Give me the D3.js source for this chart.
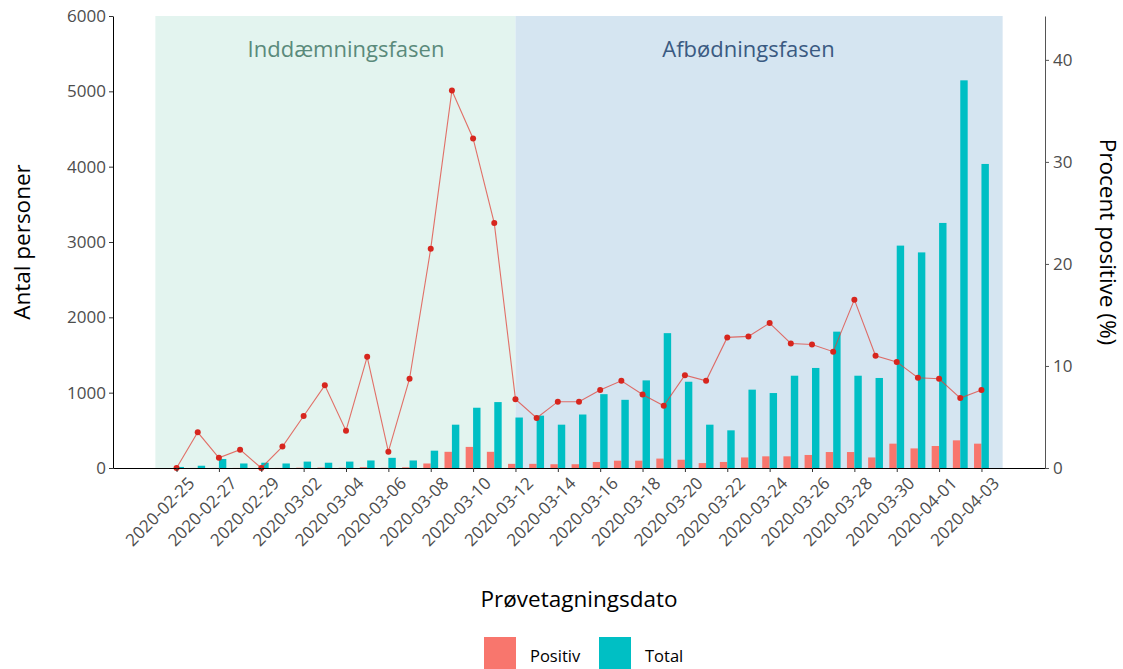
<!DOCTYPE html>
<html>
<head>
<meta charset="utf-8">
<script src="https://cdn.jsdelivr.net/npm/d3@7"></script>
<style>
  body { margin: 0; background: #fff; }
  svg text { font-family: "Open Sans", "Noto Sans", sans-serif; }
  .tick text { fill: #4d4d4d; font-size: 17px; }
</style>
</head>
<body>
<div class="graph"></div>
<script>
// Data
const dates = ['2020-02-25','2020-02-26','2020-02-27','2020-02-28','2020-02-29',
  '2020-03-01','2020-03-02','2020-03-03','2020-03-04','2020-03-05','2020-03-06','2020-03-07',
  '2020-03-08','2020-03-09','2020-03-10','2020-03-11','2020-03-12','2020-03-13','2020-03-14',
  '2020-03-15','2020-03-16','2020-03-17','2020-03-18','2020-03-19','2020-03-20','2020-03-21',
  '2020-03-22','2020-03-23','2020-03-24','2020-03-25','2020-03-26','2020-03-27','2020-03-28',
  '2020-03-29','2020-03-30','2020-03-31','2020-04-01','2020-04-02','2020-04-03'];
const positiv = [0, 1, 1, 1, 0, 1, 4, 6, 3, 11, 2, 9,
  60, 215, 280, 215, 55, 55, 50, 50, 80, 97, 97, 125, 110, 65,
  80, 140, 155, 155, 173, 212, 212, 140, 323, 260, 292, 367, 323];
const total = [14, 30, 120, 60, 70, 60, 85, 70, 85, 100, 135, 100,
  230, 575, 800, 875, 670, 695, 575, 710, 980, 905, 1163, 1790, 1145, 575,
  500, 1040, 995, 1225, 1328, 1810, 1225, 1195, 2952, 2862, 3253, 5146, 4036];
const procent = [0, 3.5, 1.0, 1.8, 0, 2.1, 5.1, 8.1, 3.65, 10.9, 1.6, 8.75,
  21.5, 37.0, 32.3, 24.0, 6.75, 4.9, 6.5, 6.5, 7.65, 8.55, 7.2, 6.1, 9.1, 8.55,
  12.8, 12.9, 14.2, 12.2, 12.1, 11.4, 16.5, 11.0, 10.4, 8.85, 8.75, 6.85, 7.65];
const tickDates = ['2020-02-25','2020-02-27','2020-02-29','2020-03-02','2020-03-04',
  '2020-03-06','2020-03-08','2020-03-10','2020-03-12','2020-03-14','2020-03-16','2020-03-18',
  '2020-03-20','2020-03-22','2020-03-24','2020-03-26','2020-03-28','2020-03-30','2020-04-01','2020-04-03'];
const leftTicks = [0, 1000, 2000, 3000, 4000, 5000, 6000];
const rightTicks = [0, 10, 20, 30, 40];
const phases = [
  { name: 'Inddæmningsfasen', start: '2020-02-24', end: '2020-03-12', label: '2020-03-04', fill: '#e3f4ef', color: '#5a8a7b' },
  { name: 'Afbødningsfasen', start: '2020-03-12', end: '2020-04-04', label: '2020-03-23', fill: '#d5e5f1', color: '#3a5a82' }
];
const series = ['Positiv', 'Total'];
const colors = ['#f8766d', '#00bfc4'];

const parse = d3.utcParse('%Y-%m-%d');
const fmt = d3.utcFormat('%Y-%m-%d');

const W = 1123, H = 669;
const margin = { left: 113, right: 1045, top: 16, bottom: 468 };

const svg = d3.select('.graph')
  .append('svg')
  .attr('width', W)
  .attr('height', H);

// Scales
const x = d3.scaleUtc()
  .domain([parse('2020-02-22'), parse('2020-04-06')])
  .range([margin.left, margin.right]);
const y = d3.scaleLinear().domain([0, 6000]).range([margin.bottom, margin.top]);
const y2 = d3.scaleLinear().domain([0, 44.3]).range([margin.bottom, margin.top]);

const dayW = x(parse('2020-02-26')) - x(parse('2020-02-25'));
const barW = dayW * 0.7 / 2;

// Phase backgrounds
svg.selectAll('.phase')
  .data(phases)
  .enter()
  .append('rect')
  .attr('x', d => x(parse(d.start)))
  .attr('width', d => x(parse(d.end)) - x(parse(d.start)))
  .attr('y', margin.top)
  .attr('height', margin.bottom - margin.top)
  .attr('fill', d => d.fill);

svg.selectAll('.phase-label')
  .data(phases)
  .enter()
  .append('text')
  .attr('x', d => x(parse(d.label)))
  .attr('y', 57)
  .attr('text-anchor', 'middle')
  .attr('fill', d => d.color)
  .style('font-size', '22px')
  .text(d => d.name);

// Bars
const rows = dates.map((d, i) => ({ date: parse(d), vals: [positiv[i], total[i]], pct: procent[i] }));

rows.forEach(r => {
  r.vals.forEach((v, j) => {
    svg.append('rect')
      .attr('x', x(r.date) - barW + j * barW)
      .attr('y', y(v))
      .attr('width', barW)
      .attr('height', margin.bottom - y(v))
      .attr('fill', colors[j]);
  });
});

// Line + points
const line = d3.line()
  .x(d => x(d.date))
  .y(d => y2(d.pct));

svg.append('path')
  .datum(rows)
  .attr('d', line)
  .attr('fill', 'none')
  .attr('stroke', '#e0433a')
  .attr('stroke-opacity', 0.75)
  .attr('stroke-width', 1.1);

svg.selectAll('.pt')
  .data(rows)
  .enter()
  .append('circle')
  .attr('cx', d => x(d.date))
  .attr('cy', d => y2(d.pct))
  .attr('r', 3)
  .attr('fill', '#d7261e');

// Axes
const xAxis = d3.axisBottom(x)
  .tickValues(tickDates.map(parse))
  .tickFormat(fmt)
  .tickSize(4)
  .tickSizeOuter(0);

const gx = svg.append('g')
  .attr('transform', `translate(0,${margin.bottom})`)
  .call(xAxis);
gx.select('.domain').attr('stroke', '#000');
gx.selectAll('.tick line').attr('stroke', '#333');
gx.selectAll('.tick text')
  .attr('text-anchor', 'end')
  .attr('transform', 'translate(5,3) rotate(-45)')
  .attr('dy', '0.71em')
  .attr('y', 7)
  .attr('x', 0);

const gy = svg.append('g')
  .attr('transform', `translate(${margin.left},0)`)
  .call(d3.axisLeft(y).tickValues(leftTicks).tickFormat(d3.format('d')).tickSize(4).tickSizeOuter(0).tickPadding(3));
gy.select('.domain').attr('stroke', '#000');
gy.selectAll('.tick line').attr('stroke', '#333');

const gy2 = svg.append('g')
  .attr('transform', `translate(${margin.right},0)`)
  .call(d3.axisRight(y2).tickValues(rightTicks).tickSize(4).tickSizeOuter(0).tickPadding(4));
gy2.select('.domain').attr('stroke', '#555');
gy2.selectAll('.tick line').attr('stroke', '#555');

// Axis titles
svg.append('text')
  .attr('x', (margin.left + margin.right) / 2)
  .attr('y', 607)
  .attr('text-anchor', 'middle')
  .style('font-size', '22.5px')
  .text('Prøvetagningsdato');

svg.append('text')
  .attr('transform', `translate(30,${(margin.top + margin.bottom) / 2}) rotate(-90)`)
  .attr('text-anchor', 'middle')
  .style('font-size', '22.5px')
  .text('Antal personer');

svg.append('text')
  .attr('transform', `translate(1100,${(margin.top + margin.bottom) / 2}) rotate(90)`)
  .attr('text-anchor', 'middle')
  .style('font-size', '22.5px')
  .text('Procent positive (%)');

// Legend
const legend = svg.append('g');
const legX = [484, 599];
series.forEach((s, i) => {
  legend.append('rect')
    .attr('x', legX[i])
    .attr('y', 637)
    .attr('width', 32)
    .attr('height', 32)
    .attr('fill', colors[i]);
  legend.append('text')
    .attr('x', legX[i] + 46)
    .attr('y', 662)
    .style('font-size', '16.5px')
    .text(s);
});
</script>
</body>
</html>
